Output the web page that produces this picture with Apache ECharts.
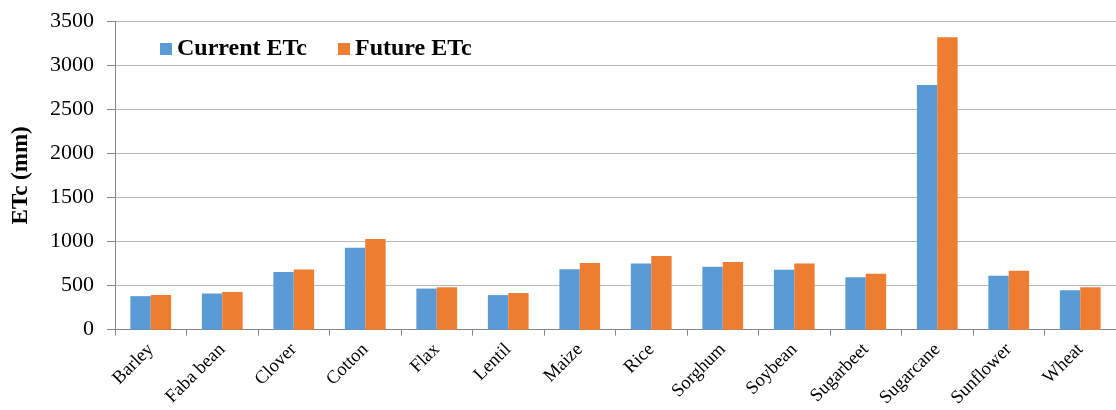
<!DOCTYPE html>
<html>
<head>
<meta charset="utf-8">
<script src="https://cdn.jsdelivr.net/npm/echarts@6/dist/echarts.min.js"></script>
<style>
html,body{margin:0;padding:0;background:#fff;}
#chart{width:1116px;height:410px;}
</style>
</head>
<body>
<div id="chart"></div>
<script>
const categories = ['Barley','Faba bean','Clover','Cotton','Flax','Lentil','Maize','Rice','Sorghum','Soybean','Sugarbeet','Sugarcane','Sunflower','Wheat'];
const currentETc = [380, 410, 655, 930, 466, 392, 686, 750, 712, 678, 593, 2775, 611, 447];
const futureETc  = [393, 428, 683, 1028, 482, 416, 757, 835, 768, 750, 634, 3315, 667, 481];
const yTicks = {min: 0, max: 3500, interval: 500};

const serif = "'Liberation Serif','Times New Roman',serif";
const chart = echarts.init(document.getElementById('chart'), null, {renderer: 'canvas'});
chart.setOption({
  animation: false,
  backgroundColor: '#ffffff',
  grid: {left: 115, top: 21, width: 1011, height: 313, containLabel: false},
  legend: {
    left: 155, top: 32,
    itemWidth: 12, itemHeight: 12, itemGap: 31,
    icon: 'rect',
    textStyle: {fontFamily: serif, fontWeight: 'bold', fontSize: 24, color: '#000'},
    data: ['Current ETc', 'Future ETc']
  },
  xAxis: {
    type: 'category',
    data: categories,
    axisLine: {lineStyle: {color: '#868686', width: 1}},
    axisTick: {show: true, length: 6, lineStyle: {color: '#868686'}},
    axisLabel: {rotate: 45, fontFamily: serif, fontSize: 18.5, color: '#000', margin: 17, interval: 0}
  },
  yAxis: {
    type: 'value',
    min: yTicks.min, max: yTicks.max, interval: yTicks.interval,
    name: 'ETc (mm)',
    nameLocation: 'middle',
    nameGap: 82,
    nameTextStyle: {fontFamily: serif, fontWeight: 'bold', fontSize: 23, color: '#000'},
    axisLine: {show: true, lineStyle: {color: '#868686', width: 1}},
    axisTick: {show: true, length: 8, lineStyle: {color: '#868686'}},
    axisLabel: {fontFamily: serif, fontSize: 22, color: '#000', margin: 21,
      formatter: function (v) { return String(v); }},
    splitLine: {lineStyle: {color: '#b8b8b8', width: 1}}
  },
  series: [
    {name: 'Current ETc', type: 'bar', data: currentETc, barGap: '0%', barCategoryGap: '43%',
     itemStyle: {color: '#5B9BD5'}},
    {name: 'Future ETc', type: 'bar', data: futureETc, barGap: '0%', barCategoryGap: '43%',
     itemStyle: {color: '#ED7D31'}}
  ]
});
</script>
</body>
</html>
